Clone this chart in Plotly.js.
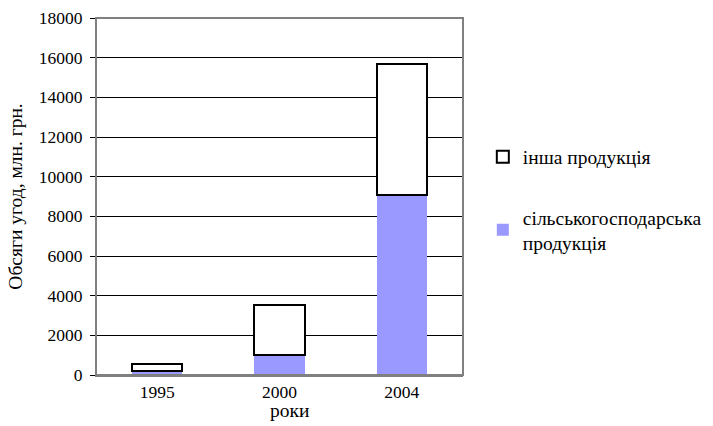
<!DOCTYPE html>
<html>
<head>
<meta charset="utf-8">
<script src="https://cdn.plot.ly/plotly-3.0.1.min.js"></script>
<style>html,body{margin:0;padding:0;background:#fff;}#chart{width:713px;height:426px;}</style>
</head>
<body>
<div id="chart"></div>
<script>
const years = ['1995', '2000', '2004'];
const agricultural = [200, 1020, 9080];
const otherProducts = [350, 2520, 6590];
const seriesNames = ['сільськогосподарська<br>продукція', 'інша продукція'];
const yTitle = 'Обсяги угод, млн. грн.';
const xTitle = 'роки';

const tickFont = {family: 'Liberation Serif', size: 17.5, color: '#000'};
const textFont = {family: 'Liberation Serif', size: 19.5, color: '#000'};

const traces = [
  {
    type: 'bar', x: years, y: agricultural, name: seriesNames[0],
    legendgroup: 'a', legendrank: 2,
    marker: {color: '#9999FF', line: {width: 0}},
    hoverinfo: 'none'
  },
  {
    type: 'bar', x: years, y: otherProducts, name: seriesNames[1],
    legendgroup: 'b', legendrank: 1,
    marker: {color: '#FFFFFF', line: {color: '#000', width: 2}},
    hoverinfo: 'none'
  }
];

const layout = {
  width: 713, height: 426,
  margin: {l: 95.75, r: 249.75, t: 18, b: 51, pad: 0, autoexpand: false},
  paper_bgcolor: '#fff', plot_bgcolor: '#fff',
  font: textFont,
  barmode: 'stack',
  bargap: 0.59,
  showlegend: true,
  legend: {
    x: 1.054, xanchor: 'left', y: 0.665, yanchor: 'top',
    traceorder: 'grouped', tracegroupgap: 32,
    font: textFont, bgcolor: 'rgba(0,0,0,0)'
  },
  xaxis: {
    type: 'category', showgrid: false, zeroline: false,
    showline: true, linecolor: '#808080', linewidth: 2,
    ticks: '', tickfont: tickFont, fixedrange: true
  },
  yaxis: {
    range: [0, 18000], dtick: 2000, tick0: 0, tickformat: 'd',
    showgrid: true, gridcolor: '#000', gridwidth: 1, zeroline: false,
    showline: true, linecolor: '#000', linewidth: 1,
    ticks: 'outside', ticklen: 5, tickcolor: '#000', tickwidth: 1,
    ticklabelstandoff: 4,
    tickfont: tickFont, fixedrange: true,
    title: {text: yTitle, font: textFont, standoff: 10}
  },
  shapes: [
    {type: 'rect', xref: 'paper', yref: 'paper', x0: 0, x1: 1, y0: 0, y1: 1,
     line: {color: '#808080', width: 2}, layer: 'above'}
  ],
  annotations: [
    {text: xTitle, xref: 'paper', yref: 'paper', x: 0.526, y: -0.1, xanchor: 'center', yanchor: 'middle',
     showarrow: false, font: textFont}
  ]
};

Plotly.newPlot('chart', traces, layout, {displayModeBar: false, staticPlot: true});
</script>
</body>
</html>
